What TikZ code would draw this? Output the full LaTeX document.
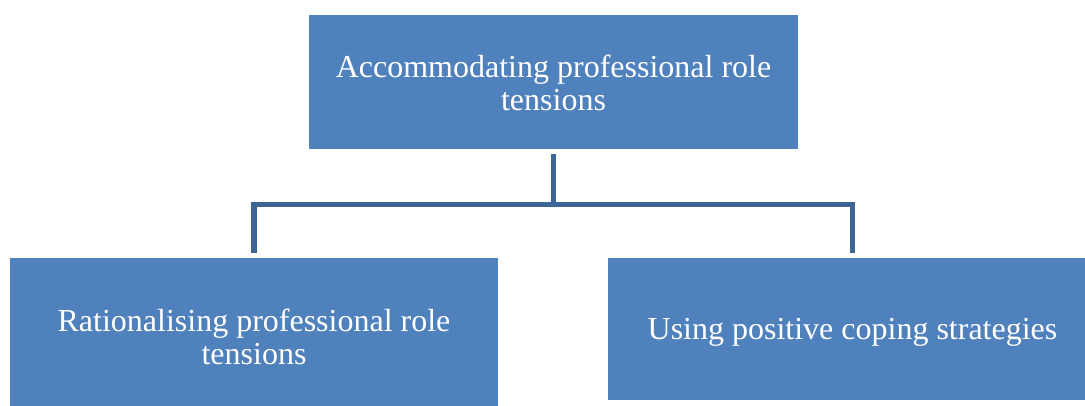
\documentclass[tikz,border=0pt]{standalone}
\usepackage{fontspec}
\setmainfont{Liberation Serif}
\definecolor{boxblue}{HTML}{4F81BD}
\definecolor{linkblue}{HTML}{3C6494}
\begin{document}
\begin{tikzpicture}[x=1pt,y=-1pt,
  box/.style={fill=boxblue, draw=none, inner sep=0pt, outer sep=0pt},
  lbl/.style={text=white, align=center, font=\fontsize{32}{32.5}\selectfont, inner sep=0pt},
  conn/.style={draw=linkblue, line width=5.5pt}]
\useasboundingbox (0,0) rectangle (1085,405);
\clip (0,0) rectangle (1085,405);
\node[box, minimum width=489pt, minimum height=134pt] (top) at (553.5,82) {};
\node[box, minimum width=488.5pt, minimum height=152pt] (left) at (253.75,334) {};
\node[box, minimum width=489pt, minimum height=142pt] (right) at (852.5,329) {};
\node[lbl] (toptext) at (553.5,83) {Accommodating professional role\\tensions};
\node[lbl] (lefttext) at (254,337) {Rationalising professional role\\tensions};
\node[lbl] (righttext) at (852.5,332) {Using positive coping strategies};
\coordinate (j) at (553.5,204.5);
\draw[conn] ([yshift=-5pt]top.south) -- (j);
\draw[conn] ([yshift=5pt]left.north) |- (j) -| ([yshift=5pt]right.north);
\end{tikzpicture}
\end{document}
